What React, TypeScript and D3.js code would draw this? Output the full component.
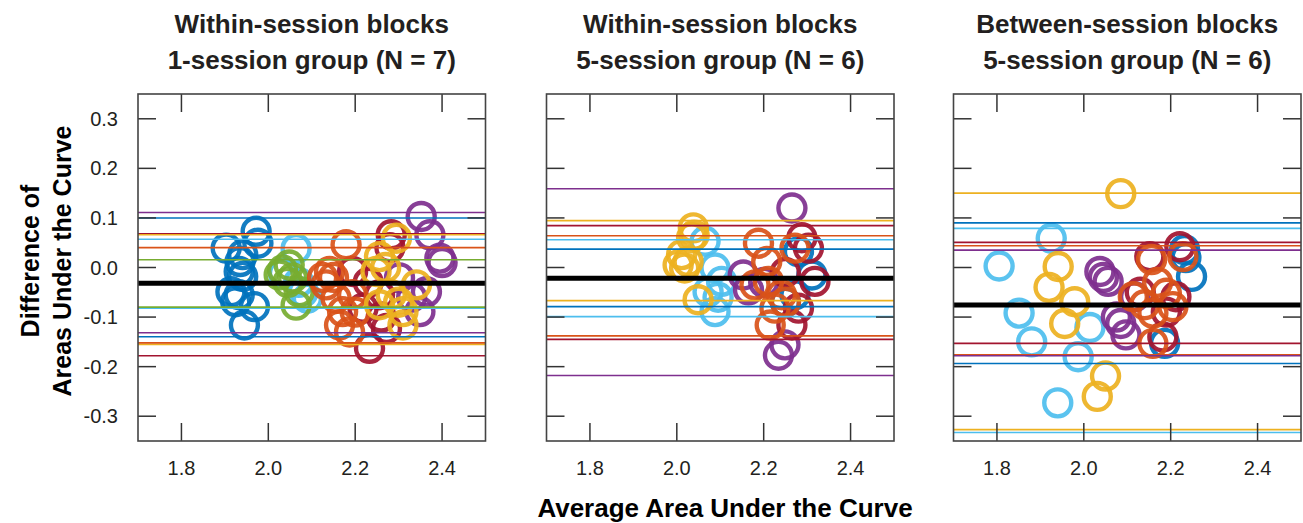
import React from "react";
import * as d3 from "d3";

type Pt = [number, number];

const COLORS: Record<string, string> = {
  blue: "#0072BD",
  lightblue: "#4DBEEE",
  green: "#77AC30",
  purple: "#7E2F8E",
  darkred: "#A2142F",
  orange: "#D95319",
  yellow: "#EDB120",
};

const xTicks = [1.8, 2.0, 2.2, 2.4];
const yTicks = [0.3, 0.2, 0.1, 0.0, -0.1, -0.2, -0.3];
const titles1 = ["Within-session blocks", "Within-session blocks", "Between-session blocks"];
const titles2 = ["1-session group (N = 7)", "5-session group (N = 6)", "5-session group (N = 6)"];

// Panel 1: within-session, 1-session group
const w1Blue: Pt[] = [[1.903,0.039],[1.972,0.073],[1.976,0.049],[1.941,0.026],[1.935,0.012],[1.933,-0.008],[1.941,-0.018],[1.914,-0.049],[1.933,-0.055],[1.925,-0.069],[1.968,-0.079],[1.945,-0.116]];
const w1LightBlue: Pt[] = [[2.064,0.038],[2.035,-0.012],[2.07,-0.03],[2.08,-0.05],[2.09,-0.062]];
const w1Green: Pt[] = [[2.033,-0.005],[2.048,0.005],[2.056,-0.021],[2.071,-0.049],[2.064,-0.076],[2.025,-0.015],[2.045,-0.03]];
const w1Purple: Pt[] = [[2.352,0.103],[2.372,0.066],[2.395,0.019],[2.4,0.01],[2.302,-0.021],[2.364,-0.049],[2.33,-0.06],[2.349,-0.089]];
const w1DarkRed: Pt[] = [[2.233,-0.163],[2.283,0.066],[2.28,0.04],[2.194,-0.008],[2.23,-0.03],[2.256,-0.055],[2.218,-0.082],[2.26,-0.1],[2.272,-0.123]];
const w1Orange: Pt[] = [[2.179,0.046],[2.141,-0.008],[2.125,-0.02],[2.15,-0.02],[2.133,-0.035],[2.194,-0.055],[2.156,-0.062],[2.171,-0.089],[2.2,-0.09],[2.164,-0.116],[2.187,-0.13]];
const w1Yellow: Pt[] = [[2.295,0.059],[2.256,0.022],[2.27,0.0],[2.248,-0.008],[2.341,-0.035],[2.283,-0.055],[2.3,-0.07],[2.256,-0.075],[2.31,-0.089],[2.31,-0.116]];

// Panel 2: within-session, 5-session group
const w5Blue: Pt[] = [[2.28,0.032],[2.311,-0.015],[2.272,-0.055],[2.25,-0.07]];
const w5LightBlue: Pt[] = [[2.065,0.053],[2.088,-0.001],[2.103,-0.028],[2.072,-0.049],[2.095,-0.06],[2.088,-0.089]];
const w5Purple: Pt[] = [[2.265,0.12],[2.153,-0.015],[2.2,-0.03],[2.165,-0.045],[2.249,-0.156],[2.234,-0.177]];
const w5DarkRed: Pt[] = [[2.288,0.06],[2.303,0.039],[2.25,-0.01],[2.318,-0.028],[2.28,-0.082],[2.265,-0.116]];
const w5Orange: Pt[] = [[2.188,0.049],[2.272,0.039],[2.207,0.012],[2.211,-0.028],[2.18,-0.035],[2.241,-0.055],[2.25,-0.07],[2.226,-0.082],[2.215,-0.116]];
const w5Yellow: Pt[] = [[2.038,0.08],[2.04,0.065],[2.034,0.06],[2.011,0.026],[2.026,0.012],[2.003,0.005],[2.018,-0.001],[2.049,-0.065]];

// Panel 3: between-session, 5-session group
const b5Blue: Pt[] = [[2.232,0.036],[2.235,0.02],[2.248,-0.018],[2.186,-0.153]];
const b5LightBlue: Pt[] = [[1.805,0.003],[1.925,0.059],[1.851,-0.092],[1.88,-0.15],[1.987,-0.18],[2.014,-0.121],[1.94,-0.273]];
const b5Purple: Pt[] = [[2.037,-0.008],[2.045,-0.02],[2.056,-0.028],[2.117,-0.059],[2.075,-0.1],[2.085,-0.113],[2.097,-0.136]];
const b5DarkRed: Pt[] = [[2.221,0.042],[2.152,0.022],[2.13,-0.05],[2.212,-0.059],[2.19,-0.09],[2.182,-0.14]];
const b5Orange: Pt[] = [[2.156,0.016],[2.228,0.022],[2.17,-0.03],[2.19,-0.052],[2.114,-0.059],[2.14,-0.075],[2.205,-0.079],[2.159,-0.092],[2.159,-0.153]];
const b5Yellow: Pt[] = [[2.085,0.149],[1.941,0.002],[1.92,-0.04],[1.979,-0.069],[1.956,-0.113],[2.05,-0.219],[2.031,-0.26]];

// Limits of agreement per participant: [color, upper, lower]
const w1Limits: [string, number, number][] = [["purple",0.111,-0.1316],["blue",0.100,-0.1397],["darkred",0.068,-0.178],["yellow",0.066,-0.155],["lightblue",0.057,-0.082],["orange",0.040,-0.152],["green",0.0156,-0.080]];
const w5Limits: [string, number, number][] = [["purple",0.159,-0.218],["yellow",0.0945,-0.0668],["darkred",0.0844,-0.145],["orange",0.064,-0.138],["lightblue",0.056,-0.099],["blue",0.037,-0.079]];
const b5Limits: [string, number, number][] = [["yellow",0.150,-0.327],["blue",0.090,-0.1936],["lightblue",0.079,-0.333],["darkred",0.0506,-0.153],["orange",0.044,-0.176],["purple",0.035,-0.178]];

const meanBias = [-0.032, -0.0215, -0.0755];

const panelSeries: [string, Pt[]][][] = [
  [["blue",w1Blue],["lightblue",w1LightBlue],["green",w1Green],["purple",w1Purple],["darkred",w1DarkRed],["orange",w1Orange],["yellow",w1Yellow]],
  [["blue",w5Blue],["lightblue",w5LightBlue],["purple",w5Purple],["darkred",w5DarkRed],["orange",w5Orange],["yellow",w5Yellow]],
  [["blue",b5Blue],["lightblue",b5LightBlue],["purple",b5Purple],["darkred",b5DarkRed],["orange",b5Orange],["yellow",b5Yellow]],
];
const panelLimits = [w1Limits, w5Limits, b5Limits];

const W = 1303, H = 523;
const panelLefts = [138, 546.5, 953.5];
const panelW = 347.5;
const top = 94, bottom = 441;
const FONT = "'Liberation Sans', Arial, Helvetica, sans-serif";

export default function App() {
  const y = d3.scaleLinear().domain([-0.35, 0.35]).range([bottom, top]);
  const tickLen = 18;
  return (
    <svg width={W} height={H} style={{ position: "absolute", left: 0, top: 0, background: "#fff" }} fontFamily={FONT}>
      <rect x={0} y={0} width={W} height={H} fill="#fff" />
      {panelLefts.map((L, pi) => {
        const x = d3.scaleLinear().domain([1.7, 2.5]).range([L, L + panelW]);
        const R = L + panelW;
        const cx = L + panelW / 2;
        return (
          <g key={pi}>
            <text x={cx} y={33} textAnchor="middle" fontSize={26} fontWeight="bold" fill="#231f20">{titles1[pi]}</text>
            <text x={cx} y={69} textAnchor="middle" fontSize={26} fontWeight="bold" fill="#231f20">{titles2[pi]}</text>
            <defs>
              <clipPath id={`clip${pi}`}>
                <rect x={L} y={top} width={panelW} height={bottom - top} />
              </clipPath>
            </defs>
            <g clipPath={`url(#clip${pi})`}>
              {panelSeries[pi].map(([c, pts]) =>
                pts.map((p, i) => (
                  <circle key={c + i} cx={x(p[0])} cy={y(p[1])} r={13.5} fill="none" stroke={COLORS[c]} strokeWidth={4.4} strokeOpacity={0.92} />
                ))
              )}
              {panelLimits[pi].map(([c, u, l]) => (
                <g key={c}>
                  <line x1={L} x2={R} y1={y(u)} y2={y(u)} stroke={COLORS[c]} strokeWidth={1.6} />
                  <line x1={L} x2={R} y1={y(l)} y2={y(l)} stroke={COLORS[c]} strokeWidth={1.6} />
                </g>
              ))}
              <line x1={L} x2={R} y1={y(meanBias[pi])} y2={y(meanBias[pi])} stroke="#000" strokeWidth={5} />
            </g>
            {xTicks.map((t) => (
              <g key={t}>
                <line x1={x(t)} x2={x(t)} y1={top} y2={top + tickLen} stroke="#333" strokeWidth={1.5} />
                <line x1={x(t)} x2={x(t)} y1={bottom} y2={bottom - tickLen} stroke="#333" strokeWidth={1.5} />
                <text x={x(t)} y={475} textAnchor="middle" fontSize={20} fill="#231f20">{t.toFixed(1)}</text>
              </g>
            ))}
            {yTicks.map((t) => (
              <g key={t}>
                <line x1={L} x2={L + tickLen} y1={y(t)} y2={y(t)} stroke="#333" strokeWidth={1.5} />
                <line x1={R} x2={R - tickLen} y1={y(t)} y2={y(t)} stroke="#333" strokeWidth={1.5} />
                {pi === 0 && (
                  <text x={L - 20} y={y(t)} dy="0.35em" textAnchor="end" fontSize={20} fill="#231f20">{t.toFixed(1)}</text>
                )}
              </g>
            ))}
            <rect x={L} y={top} width={panelW} height={bottom - top} fill="none" stroke="#444" strokeWidth={1.6} />
          </g>
        );
      })}
      <text transform={`translate(39, 261) rotate(-90)`} textAnchor="middle" fontSize={25} fontWeight="bold" fill="#000">Difference of</text>
      <text transform={`translate(71, 261) rotate(-90)`} textAnchor="middle" fontSize={25} fontWeight="bold" fill="#000">Areas Under the Curve</text>
      <text x={725} y={517} textAnchor="middle" fontSize={26} fontWeight="bold" fill="#000">Average Area Under the Curve</text>
    </svg>
  );
}
